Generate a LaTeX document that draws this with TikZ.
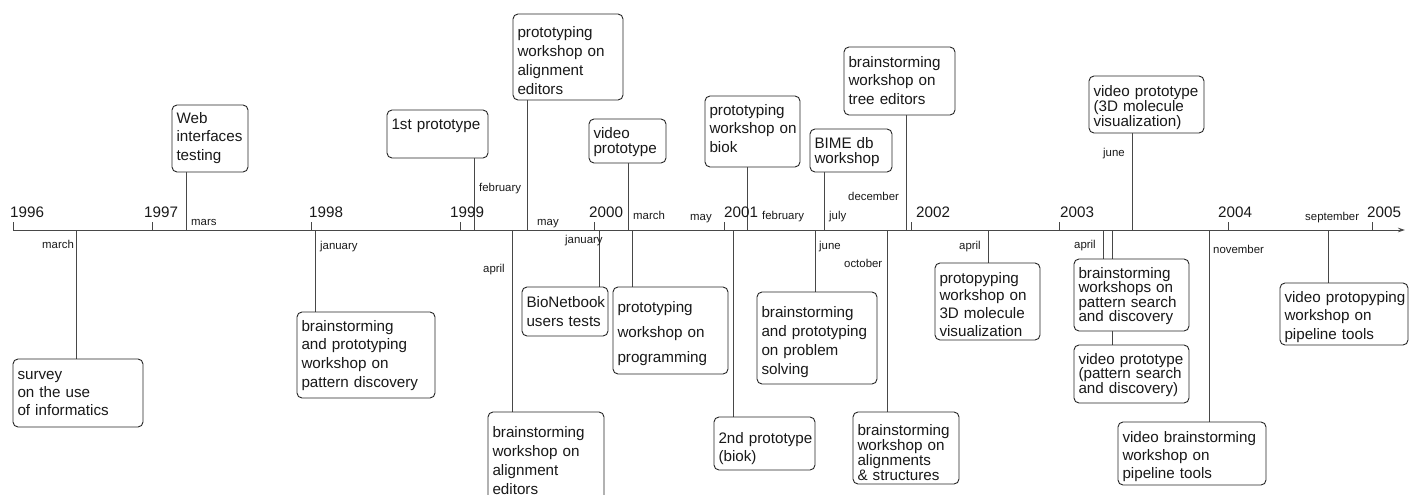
\documentclass[tikz,border=0pt]{standalone}
\usepackage{fontspec}
\setmainfont{Liberation Sans}
\usetikzlibrary{arrows.meta,backgrounds}
\newcommand\Lx[1]{\mbox{#1}}
\newcommand\EvBox[8]{\node[evbox, text width=#4pt, text height=#5pt, text depth=#6pt, font=\fontsize{15.2}{#7}\selectfont] (#1) at (#2,#3) {#8};}
\tikzset{
  evbox/.style={draw=black!85, line width=0.9pt, rounded corners=5pt, fill=white, anchor=north west, inner xsep=4.5pt, inner ysep=0pt, outer sep=0pt, align=left, text=black!90},
  stem/.style={draw=black!72, line width=1pt},
  yeartick/.style={draw=black!72, line width=1pt},
  axisline/.style={draw=black!72, line width=1pt, -{Stealth[length=7pt,width=4.5pt]}},
  yr/.style={font=\fontsize{15.2}{18}\selectfont, anchor=base west, inner sep=0pt, text=black!90},
  mo/.style={font=\fontsize{11.4}{13}\selectfont, anchor=base west, inner sep=0pt, text=black!90}
}
\begin{document}
\begin{tikzpicture}[x=1pt,y=-1pt]
\useasboundingbox (0,0) rectangle (1409,495);
% axis
\coordinate (ax0) at (13,230);
\coordinate (ax1) at (1405,230);
\draw[axisline] (ax0) -- (ax1);
% year ticks and labels
\foreach \n/\tx/\lx in {1996/13/10, 1997/152/144, 1998/311/309, 1999/460/450, 2000/594/589, 2001/724/724, 2002/911/916, 2003/1059/1060, 2004/1228/1218, 2005/1372/1367}{
  \coordinate (t\n) at (\tx,230);
  \draw[yeartick] (t\n) -- ++(0,-8);
  \node[yr] (y\n) at (\lx,217) {\n};
}
% month labels
\node[mo] (m1) at (42,248) {march};
\node[mo] (m2) at (191,225) {mars};
\node[mo] (m3) at (320,249) {january};
\node[mo] (m4) at (479,191) {february};
\node[mo] (m5) at (537,225) {may};
\node[mo] (m6) at (483,272) {april};
\node[mo] (m7) at (565,243) {january};
\node[mo] (m8) at (633,219) {march};
\node[mo] (m9) at (690,220) {may};
\node[mo] (m10) at (762,219) {february};
\node[mo] (m11) at (829,219) {july};
\node[mo] (m12) at (848,200) {december};
\node[mo] (m13) at (819,249) {june};
\node[mo] (m14) at (844,267) {october};
\node[mo] (m15) at (959,249) {april};
\node[mo] (m16) at (1074,248) {april};
\node[mo] (m17) at (1103,156) {june};
\node[mo] (m18) at (1213,253) {november};
\node[mo] (m19) at (1305,220) {september};
% boxes above the axis
\EvBox{U1}{172}{105}{67}{18}{49}{18.5}{\Lx{Web}\\\Lx{interfaces}\\\Lx{testing}}
\EvBox{U2}{387}{110}{92}{19}{29}{18}{\Lx{1st prototype}}
\EvBox{U3}{513}{14}{101}{24}{62}{19}{\Lx{prototyping}\\\Lx{workshop on}\\\Lx{alignment}\\\Lx{editors}}
\EvBox{U4}{589}{119}{68}{20}{24}{14}{\Lx{video}\\\Lx{prototype}}
\EvBox{U5}{705}{96}{86}{19}{52}{18.5}{\Lx{prototyping}\\\Lx{workshop on}\\\Lx{biok}}
\EvBox{U6}{810}{129}{73}{19}{24}{15}{\Lx{BIME db}\\\Lx{workshop}}
\EvBox{U7}{844}{47}{102}{20}{48}{18.5}{\Lx{brainstorming}\\\Lx{workshop on}\\\Lx{tree editors}}
\EvBox{U8}{1089}{76}{106}{20}{37}{13.5}{\Lx{video prototype}\\\Lx{(3D molecule}\\\Lx{visualization)}}
% boxes below the axis
\EvBox{D1}{13}{359}{121}{20}{48}{18}{\Lx{survey}\\\Lx{on the use}\\\Lx{of informatics}}
\EvBox{D2}{297}{312}{129}{19}{67}{18.7}{\Lx{brainstorming}\\\Lx{and prototyping}\\\Lx{workshop on}\\\Lx{pattern discovery}}
\EvBox{D3}{488}{412}{107}{25}{63}{19}{\Lx{brainstorming}\\\Lx{workshop on}\\\Lx{alignment}\\\Lx{editors}}
\EvBox{D4}{522}{287}{77}{20}{29}{19}{\Lx{BioNetbook}\\\Lx{users tests}}
\EvBox{D5}{613}{287}{106}{25}{62}{25}{\Lx{prototyping}\\\Lx{workshop on}\\\Lx{programming}}
\EvBox{D6}{714}{417}{92}{26}{27}{18}{\Lx{2nd prototype}\\\Lx{(biok)}}
\EvBox{D7}{757}{292}{111}{25}{67}{19}{\Lx{brainstorming}\\\Lx{and prototyping}\\\Lx{on problem}\\\Lx{solving}}
\EvBox{D8}{853}{412}{97}{23}{49}{13.5}{\Lx{brainstorming}\\\Lx{workshop on}\\\Lx{alignments}\\\Lx{\& structures}}
\EvBox{D9}{935}{263}{96}{20}{57}{17.7}{\Lx{protopyping}\\\Lx{workshop on}\\\Lx{3D molecule}\\\Lx{visualization}}
\EvBox{D10}{1074}{259}{106}{19}{53}{14.5}{\Lx{brainstorming}\\\Lx{workshops on}\\\Lx{pattern search}\\\Lx{and discovery}}
\EvBox{D11}{1074}{345}{106}{19}{39}{14.5}{\Lx{video prototype}\\\Lx{(pattern search}\\\Lx{and discovery)}}
\EvBox{D12}{1118}{422}{139}{20}{43}{18}{\Lx{video brainstorming}\\\Lx{workshop on}\\\Lx{pipeline tools}}
\EvBox{D13}{1280}{283}{119}{19}{43}{18.5}{\Lx{video protopyping}\\\Lx{workshop on}\\\Lx{pipeline tools}}
% stems
\foreach \nm/\sx in {U1/186, U2/474, U3/527, U4/628, U5/747, U6/824, U7/906, U8/1132}{
  \coordinate (a\nm) at (\sx,230);
}
\foreach \nm/\sx in {D1/76, D2/315, D3/512, D4/599, D5/632, D6/733, D7/815, D8/887, D9/988, D10/1103, D11/1112, D12/1209, D13/1328}{
  \coordinate (a\nm) at (\sx,230);
}
\begin{scope}[on background layer]
\foreach \nm in {U1,U2,U3,U4,U5,U6,U7,U8}{
  \draw[stem] (a\nm) -- (a\nm |- \nm.south);
}
\foreach \nm in {D1,D2,D3,D4,D5,D6,D7,D8,D9,D10,D11,D12,D13}{
  \draw[stem] (a\nm) -- (a\nm |- \nm.north);
}
\end{scope}
\end{tikzpicture}
\end{document}
